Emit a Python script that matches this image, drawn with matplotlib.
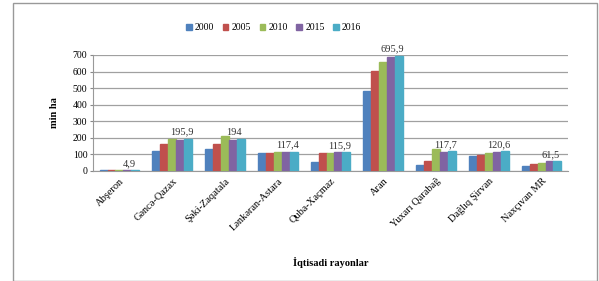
import matplotlib
matplotlib.use("Agg")
import matplotlib.pyplot as plt
import numpy as np
from matplotlib.patches import Rectangle

categories = ["Abşeron", "Gəncə-Qazax", "Şəki-Zaqatala", "Lənkəran-Astara",
              "Quba-Xaçmaz", "Aran", "Yuxarı Qarabağ", "Dağlıq Şirvan", "Naxçıvan MR"]
years = ["2000", "2005", "2010", "2015", "2016"]
v2000 = [5, 120, 130, 110, 55, 480, 35, 90, 30]
v2005 = [5, 165, 160, 110, 110, 605, 60, 95, 45]
v2010 = [5, 195, 210, 115, 110, 660, 135, 110, 50]
v2015 = [5, 190, 190, 115, 115, 685, 115, 115, 60]
v2016 = [4.9, 195.9, 194, 117.4, 115.9, 695.9, 117.7, 120.6, 61.5]
labels2016 = ["4,9", "195,9", "194", "117,4", "115,9", "695,9", "117,7", "120,6", "61,5"]
series = [v2000, v2005, v2010, v2015, v2016]
colors = ["#4F81BD", "#C0504D", "#9BBB59", "#8064A2", "#4BACC6"]

plt.rcParams['font.family'] = ['Liberation Serif', 'DejaVu Serif']

fig = plt.figure(figsize=(5.99, 2.81), dpi=100)
fig.patches.append(Rectangle((13/599, 0.0), 584/599, 1 - 3/281, transform=fig.transFigure,
                             fill=False, edgecolor="#999999", linewidth=1.0))
ax = fig.add_axes([93/599, 1 - 171/281, (568 - 93)/599, (171 - 55)/281])

x = np.arange(len(categories))
w = 0.15
for i, (vals, c, yr) in enumerate(zip(series, colors, years)):
    ax.bar(x + (i - 2) * w, vals, width=w, color=c, edgecolor=c, label=yr, zorder=3)

for xi, v, lab in zip(x, v2016, labels2016):
    ax.text(xi + 1.2 * w, v + 12, lab, ha="center", va="bottom", fontsize=7.5, color="#333333")

ax.set_xlim(-0.5, len(categories) - 0.5)
ax.set_ylim(0, 700)
ax.set_yticks(range(0, 701, 100))
ax.tick_params(axis="y", labelsize=7, length=2, color="#888888", pad=2)
ax.set_xticks(x)
ax.set_xticklabels(categories, rotation=45, ha="right", rotation_mode="anchor", fontsize=7.5)
ax.tick_params(axis="x", length=0, pad=4)
ax.yaxis.grid(True, color="#A0A0A0", linewidth=0.9, zorder=0)
for s in ["top", "right"]:
    ax.spines[s].set_visible(False)
ax.spines["left"].set_color("#999999")
ax.spines["bottom"].set_color("#999999")
ax.set_ylabel("min ha", fontsize=7.5, fontweight="bold", labelpad=10)
ax.set_xlabel("İqtisadi rayonlar", fontsize=7.5, fontweight="bold", labelpad=18)

ax.legend(loc="lower center", bbox_to_anchor=(0.38, 1.12), ncol=5, fontsize=7, frameon=False,
          handlelength=0.6, handleheight=0.6, handletextpad=0.3, columnspacing=0.9)

fig.savefig("out.png", dpi=100)
